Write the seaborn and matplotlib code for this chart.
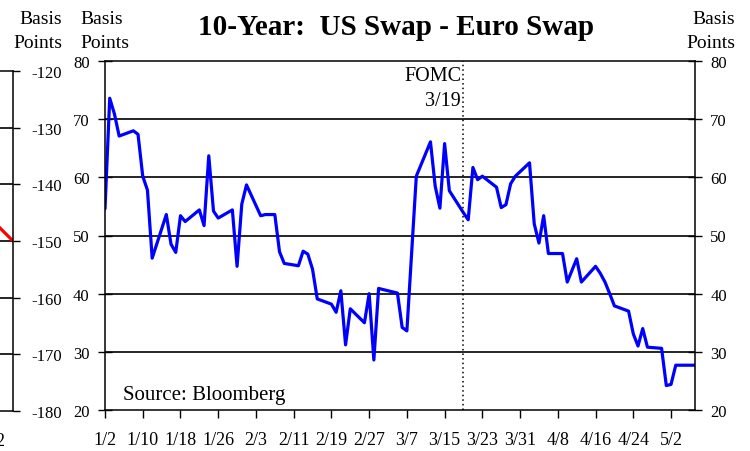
import pandas as pd
import matplotlib.pyplot as plt
import seaborn as sns

# Dados
dias = ["01-02", "01-03", "01-04", "01-05", "01-08", "01-09", "01-10", "01-11", "01-12",
        "01-15", "01-16", "01-17", "01-18", "01-19", "01-22", "01-23", "01-24", "01-25",
        "01-26", "01-29", "01-30", "01-31", "02-01", "02-04", "02-05", "02-07", "02-08",
        "02-09", "02-12", "02-13", "02-14", "02-15", "02-16", "02-19", "02-20", "02-21",
        "02-22", "02-23", "02-26", "02-27", "02-28", "03-01", "03-05", "03-06", "03-07",
        "03-09", "03-12", "03-13", "03-14", "03-15", "03-16", "03-19", "03-20", "03-21",
        "03-22", "03-23", "03-26", "03-27", "03-28", "03-29", "03-30", "04-02", "04-03",
        "04-04", "04-05", "04-06", "04-09", "04-10", "04-12", "04-13", "04-16", "04-17",
        "04-18", "04-19", "04-20", "04-23", "04-24", "04-25", "04-26", "04-27", "04-30",
        "05-01", "05-02", "05-03", "05-07"]
spread = [54.6, 73.6, 70.9, 67.1, 68.0, 67.4, 60.2, 57.8, 46.1,
          53.6, 48.5, 47.1, 53.4, 52.4, 54.4, 51.7, 63.7, 54.2,
          53.0, 54.4, 44.7, 55.4, 58.7, 53.4, 53.6, 53.6, 47.2,
          45.2, 44.8, 47.3, 46.8, 44.2, 39.1, 38.2, 36.8, 40.5,
          31.2, 37.4, 35.0, 40.0, 28.6, 40.9, 40.1, 34.2, 33.6,
          60.2, 66.1, 58.5, 54.7, 65.8, 57.7, 53.9, 52.7, 61.7,
          59.6, 60.2, 58.3, 54.8, 55.3, 58.9, 60.2, 62.5, 52.0,
          48.7, 53.4, 46.9, 46.9, 42.0, 46.0, 42.0, 44.7, 43.5,
          42.0, 40.0, 37.9, 37.0, 33.1, 31.0, 34.0, 30.8, 30.6,
          24.2, 24.4, 27.7, 27.7]

# pedaço do gráfico vizinho (cortado à esquerda)
dias_vizinho = ["05-03", "05-06"]
spread_vizinho = [-147.5, -150.0]

fomc = "2002-03-19"

df = pd.DataFrame({"Data": pd.to_datetime(["2002-" + d for d in dias]), "Valor": spread})
df_viz = pd.DataFrame({"Data": pd.to_datetime(["2002-" + d for d in dias_vizinho]),
                       "Valor": spread_vizinho})

ticks = pd.date_range("2002-01-02", "2002-05-02", freq="8D")
tick_labels = [f"{t.month}/{t.day}" for t in ticks]

sns.set_theme(style="white")
plt.rcParams["font.family"] = ["Liberation Serif", "DejaVu Serif"]
plt.rcParams["axes.unicode_minus"] = False
plt.rcParams["text.color"] = "black"

fig = plt.figure(figsize=(7.5, 4.52), dpi=100)
W, H = 750, 452


def box(x0, y0, x1, y1):
    return [x0 / W, 1 - y1 / H, (x1 - x0) / W, (y1 - y0) / H]


# Gráfico principal
ax = fig.add_axes(box(105, 62, 695, 411))
sns.lineplot(data=df, x="Data", y="Valor", ax=ax, color="#0000FF", lw=2.3)
ax.set_xlim(pd.Timestamp("2002-01-02"), pd.Timestamp("2002-05-07 02:00"))
ax.set_ylim(20, 80)
ax.set_yticks(range(20, 81, 10))
ax.set_xticks(ticks)
ax.set_xticklabels(tick_labels)
ax.set_xlabel("")
ax.set_ylabel("")
for v in range(30, 80, 10):
    ax.axhline(v, color="black", lw=1.2, zorder=0)
ax.axvline(pd.Timestamp(fomc), color="black", ls=(0, (1, 2)), lw=1.1)
for s in ax.spines.values():
    s.set_color("black")
    s.set_linewidth(1.1)
ax.tick_params(axis="y", left=True, right=True, labelleft=True, labelright=True,
               direction="inout", length=10, width=1, pad=6, labelsize=12, colors="black")
ax.tick_params(axis="x", bottom=True, direction="out", length=6, width=1, pad=9,
               labelsize=13, colors="black")

ax.text(pd.Timestamp("2002-03-18 12:00"), 77.5, "FOMC", ha="right", va="center", fontsize=14.5)
ax.text(pd.Timestamp("2002-03-18 12:00"), 73.2, "3/19", ha="right", va="center", fontsize=14.5)
ax.text(0.03, 0.018, "Source: Bloomberg", transform=ax.transAxes, ha="left", va="bottom",
        fontsize=15)

# Gráfico vizinho cortado
ax2 = fig.add_axes(box(13 - 590, 72, 13, 412))
sns.lineplot(data=df_viz, x="Data", y="Valor", ax=ax2, color="#FF0000", lw=2.3)
ax2.set_xlim(pd.Timestamp("2002-01-01 00:00"), pd.Timestamp("2002-05-06 00:00"))
ax2.set_ylim(-180, -120)
ax2.set_yticks(range(-180, -119, 10))
ax2.set_xticks(ticks[-1:])
ax2.set_xticklabels(tick_labels[-1:])
ax2.set_xlabel("")
ax2.set_ylabel("")
for v in range(-170, -120, 10):
    ax2.axhline(v, color="black", lw=1.2, zorder=0)
for s in ax2.spines.values():
    s.set_color("black")
    s.set_linewidth(1.1)
ax2.yaxis.tick_right()
ax2.tick_params(axis="y", right=True, direction="out", length=5, width=1, pad=8,
                labelsize=12, colors="black")
ax2.tick_params(axis="x", bottom=True, direction="out", length=6, width=1, pad=9,
                labelsize=13, colors="black")

# Títulos
fig.text(396 / W, 1 - 35 / H, "10-Year:  US Swap - Euro Swap", ha="center", va="baseline",
         fontsize=21, fontweight="bold")
for x, ha in [(62, "right"), (80, "left"), (735, "right")]:
    fig.text(x / W, 1 - 24 / H, "Basis", ha=ha, va="baseline", fontsize=14)
    fig.text(x / W, 1 - 48 / H, "Points", ha=ha, va="baseline", fontsize=14)

plt.savefig("out.png", dpi=100)
plt.close()
